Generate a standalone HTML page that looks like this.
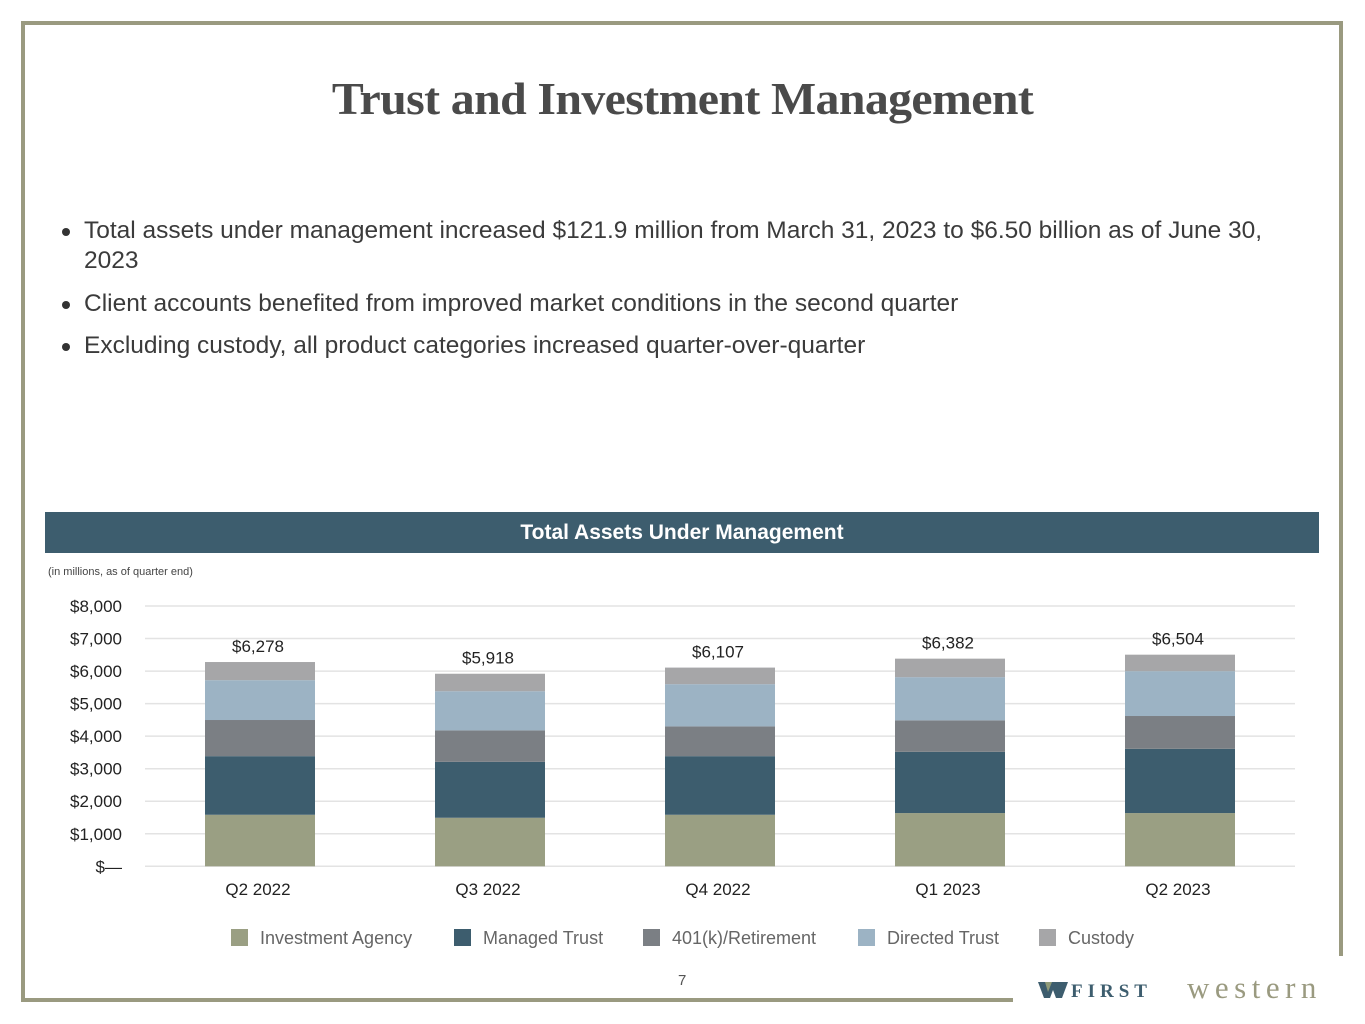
<!DOCTYPE html>
<html><head><meta charset="utf-8"><style>
body{margin:0;width:1365px;height:1024px;background:#fff;position:relative;overflow:hidden;font-family:"Liberation Sans",sans-serif}
.abs{position:absolute}
.bl{position:absolute;left:84px;font-size:24.5px;color:#3b3b3b;line-height:30px;width:1215px}
.dot{position:absolute;left:-22px;top:12px;width:8px;height:8px;border-radius:50%;background:#333}
</style></head><body>
<div class="abs" style="left:21px;top:21px;width:1322px;height:4px;background:#9a9a80"></div>
<div class="abs" style="left:21px;top:21px;width:4px;height:981px;background:#9a9a80"></div>
<div class="abs" style="left:1339px;top:21px;width:4px;height:935px;background:#9a9a80"></div>
<div class="abs" style="left:21px;top:998px;width:992px;height:4px;background:#9a9a80"></div>
<div class="abs" style="left:0;top:72px;width:1365px;text-align:center;font-family:'Liberation Serif',serif;font-weight:bold;font-size:46px;color:#4a4a4a;letter-spacing:-0.6px;transform:scaleX(1.04)">Trust and Investment Management</div>
<div class="bl" style="top:216px"><span class="dot"></span>Total assets under management increased $121.9 million from March 31, 2023 to $6.50 billion as of June 30, 2023</div>
<div class="bl" style="top:289px"><span class="dot"></span>Client accounts benefited from improved market conditions in the second quarter</div>
<div class="bl" style="top:331px"><span class="dot"></span>Excluding custody, all product categories increased quarter-over-quarter</div>
<div class="abs" style="left:45px;top:512px;width:1274px;height:41px;background:#3d5d6e;color:#fff;font-weight:bold;font-size:21px;text-align:center;line-height:41px">Total Assets Under Management</div>
<div class="abs" style="left:48px;top:566px;font-size:11px;color:#444">(in millions, as of quarter end)</div>
<svg class="abs" style="left:0;top:0" width="1365" height="1024" id="chart"></svg>
<div class="abs" style="left:678px;top:972px;font-size:15px;color:#555">7</div>
<div class="abs" style="left:1038px;top:972px;width:320px;height:40px;font-family:'Liberation Serif',serif;white-space:nowrap">
<svg width="30" height="20" style="position:absolute;left:0;top:9px"><polygon points="0,1 30,1 24,17 18,17 15,9 12,17 6,17" fill="#3d5d6e"/><polygon points="7,1 14,1 10,11" fill="#8f9a78"/></svg>
<span style="position:absolute;left:33px;top:10px;font-size:19px;line-height:20px;color:#3d5d6e;font-weight:bold;letter-spacing:5px">FIRST</span><span style="position:absolute;left:149px;top:0px;font-size:31px;line-height:32px;color:#9a9a80;letter-spacing:5.5px">western</span></div>
<script>
const categories=["Q2 2022","Q3 2022","Q4 2022","Q1 2023","Q2 2023"];
const investmentAgency=[1584,1492,1584,1636,1636];
const managedTrust=[1801,1718,1801,1883,1975];
const retirement=[1111,967,915,967,1008];
const directedTrust=[1224,1204,1297,1327,1379];
const custody=[558,537,510,569,506];
const totals=[6278,5918,6107,6382,6504];
const yTicks=[0,1000,2000,3000,4000,5000,6000,7000,8000];
const yTickLabels=["$—","$1,000","$2,000","$3,000","$4,000","$5,000","$6,000","$7,000","$8,000"];
const seriesNames=["Investment Agency","Managed Trust","401(k)/Retirement","Directed Trust","Custody"];
const series=[investmentAgency,managedTrust,retirement,directedTrust,custody];
const colors=["#9a9f83","#3d5d6e","#7b7f84","#9cb3c4","#a6a6a8"];
const svg=document.getElementById('chart');const NS="http://www.w3.org/2000/svg";
const y0=866.3,yTop=606,x0=145,x1=1295;
const y=v=>y0-(v/8000)*(y0-yTop);
const xc=i=>x0+(x1-x0)*(i+0.5)/categories.length;
function mk(t,a,txt){const e=document.createElementNS(NS,t);for(const k in a)e.setAttribute(k,a[k]);if(txt!=null)e.textContent=txt;svg.appendChild(e);return e;}
yTicks.forEach((v,i)=>{
const g=mk('line',{x1:x0,x2:x1,y1:y(v),y2:y(v),stroke:'#e3e3e3','stroke-width':1.5});


const t=mk('text',{x:122,y:y(v)+6,'text-anchor':'end','font-size':17,fill:'#222','font-family':'Liberation Sans'},yTickLabels[i]);


});
categories.forEach((c,i)=>{
let acc=0;
series.forEach((s,k)=>{
const r=mk('rect',{x:xc(i)-55,width:110,y:y(acc+s[i]),height:y(acc)-y(acc+s[i]),fill:colors[k]});


acc+=s[i];
});
const tl=mk('text',{x:xc(i)-2,y:y(totals[i])-10,'text-anchor':'middle','font-size':17,fill:'#222','font-family':'Liberation Sans'},'$'+totals[i].toLocaleString('en-US'));


const xl=mk('text',{x:xc(i)-2,y:895,'text-anchor':'middle','font-size':17,fill:'#222','font-family':'Liberation Sans'},c);


});
const legX=[231,454,643,858,1039];
seriesNames.forEach((n,k)=>{
const r=mk('rect',{x:legX[k],y:929,width:17,height:17,fill:colors[k]});


const t=mk('text',{x:legX[k]+29,y:944,'font-size':18,fill:'#666','font-family':'Liberation Sans'},n);


});
</script>
</body></html>
